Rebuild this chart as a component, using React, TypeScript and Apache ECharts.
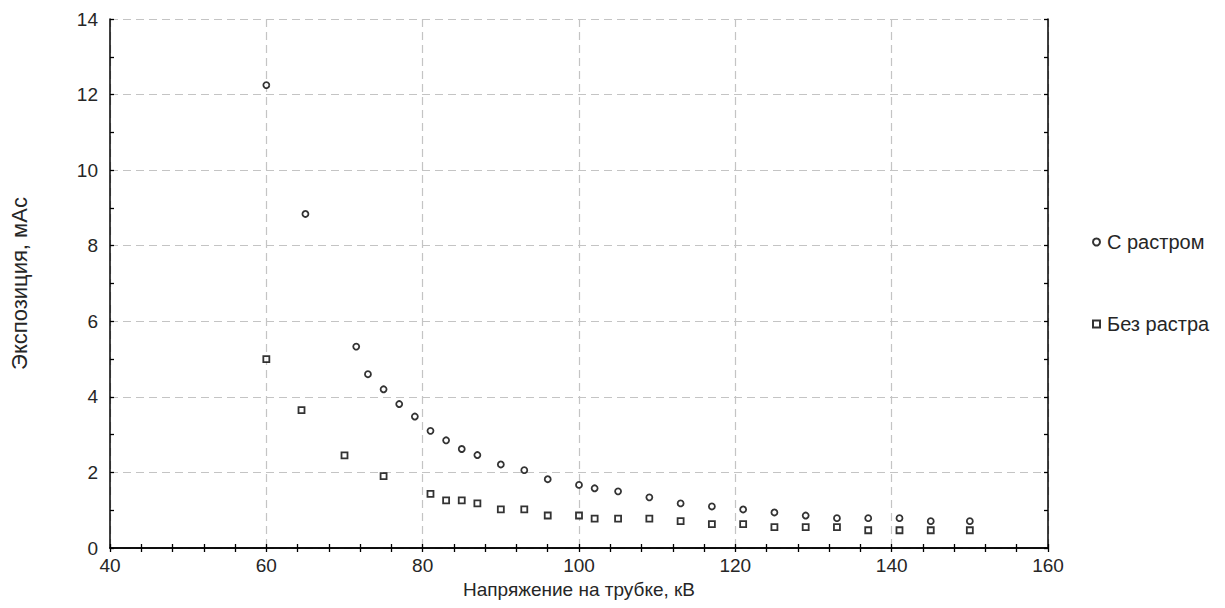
import React, { useEffect, useRef } from "react";
import * as echarts from "echarts";

const seriesNames = ["С растром", "Без растра"];

const withGridX = [60, 65, 71.5, 73, 75, 77, 79, 81, 83, 85, 87, 90, 93, 96, 100, 102, 105, 109, 113, 117, 121, 125, 129, 133, 137, 141, 145, 150];
const withGridY = [12.25, 8.84, 5.33, 4.6, 4.2, 3.81, 3.48, 3.1, 2.85, 2.62, 2.46, 2.21, 2.06, 1.82, 1.67, 1.58, 1.5, 1.34, 1.18, 1.1, 1.02, 0.94, 0.86, 0.79, 0.79, 0.79, 0.71, 0.71];

const noGridX = [60, 64.5, 70, 75, 81, 83, 85, 87, 90, 93, 96, 100, 102, 105, 109, 113, 117, 121, 125, 129, 133, 137, 141, 145, 150];
const noGridY = [5.0, 3.65, 2.45, 1.9, 1.43, 1.26, 1.26, 1.18, 1.02, 1.02, 0.86, 0.86, 0.78, 0.78, 0.78, 0.71, 0.63, 0.63, 0.55, 0.55, 0.55, 0.47, 0.47, 0.47, 0.47];

const xTitle = "Напряжение на трубке, кВ";
const yTitle = "Экспозиция, мАс";

const FONT = "Liberation Sans, Arial, Helvetica, sans-serif";
const TEXT = "#262626";

export default function App() {
  const ref = useRef<HTMLDivElement>(null);
  useEffect(() => {
    if (!ref.current) return;
    const chart = echarts.init(ref.current, null, { renderer: "svg" });
    const axisLine = { show: true, lineStyle: { color: "#000", width: 1.5 } };
    const tick = { show: true, inside: true, length: 4, lineStyle: { color: "#000", width: 1.3 } };
    const splitLine = { show: true, lineStyle: { color: "#c4c4c4", width: 1.2, type: [8, 5] } };
    const xBase = { type: "value", min: 40, max: 160, interval: 20 };
    const yBase = { type: "value", min: 0, max: 14, interval: 2 };
    const minorX = { show: true, splitNumber: 5, length: 4, lineStyle: { color: "#000", width: 1.3 } };
    const minorY = { show: true, splitNumber: 2, length: 4, lineStyle: { color: "#000", width: 1.3 } };
    const marker = { color: "#fff", borderColor: "#000", borderWidth: 1.8 };
    chart.setOption({
      animation: false,
      textStyle: { fontFamily: FONT },
      grid: { left: 110, right: 177, top: 19, bottom: 60, containLabel: false },
      legend: {
        orient: "vertical",
        left: 1087,
        top: 227,
        itemGap: 62,
        itemWidth: 7,
        itemHeight: 7,
        textStyle: { fontSize: 20, color: TEXT, fontFamily: FONT, padding: [0, 0, 0, 2] },
        data: seriesNames,
      },
      xAxis: [
        {
          ...xBase,
          position: "bottom",
          axisLine,
          axisTick: tick,
          minorTick: minorX,
          splitLine,
          axisLabel: { fontSize: 19, color: TEXT, margin: 8, fontFamily: FONT },
          name: xTitle,
          nameLocation: "middle",
          nameGap: 32,
          nameTextStyle: { fontSize: 19, color: TEXT, fontFamily: FONT },
        },
        {
          ...xBase,
          position: "top",
          axisLine,
          axisTick: tick,
          minorTick: minorX,
          splitLine: { show: false },
          axisLabel: { show: false },
        },
      ],
      yAxis: [
        {
          ...yBase,
          position: "left",
          axisLine,
          axisTick: tick,
          minorTick: minorY,
          splitLine,
          axisLabel: { fontSize: 19, color: TEXT, margin: 12, fontFamily: FONT },
          name: yTitle,
          nameLocation: "middle",
          nameGap: 80,
          nameTextStyle: { fontSize: 22, color: TEXT, fontFamily: FONT },
        },
        {
          ...yBase,
          position: "right",
          axisLine,
          axisTick: tick,
          minorTick: minorY,
          splitLine: { show: false },
          axisLabel: { show: false },
        },
      ],
      series: [
        {
          name: seriesNames[0],
          type: "scatter",
          symbol: "circle",
          symbolSize: 6,
          itemStyle: marker,
          data: withGridX.map((x, i) => [x, withGridY[i]]),
        },
        {
          name: seriesNames[1],
          type: "scatter",
          symbol: "rect",
          symbolSize: 6,
          itemStyle: marker,
          data: noGridX.map((x, i) => [x, noGridY[i]]),
        },
      ],
    });
    return () => chart.dispose();
  }, []);
  return <div ref={ref} style={{ width: 1225, height: 608, position: "absolute", left: 0, top: 0 }} />;
}
